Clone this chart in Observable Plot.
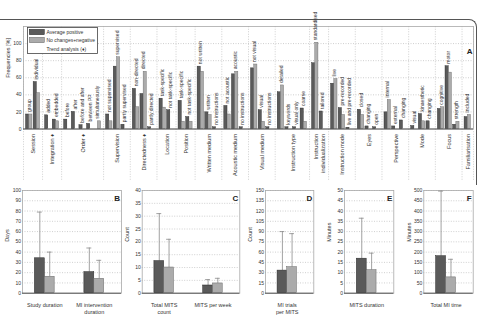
<!DOCTYPE html>
<html><head><meta charset="utf-8">
<script src="https://cdn.jsdelivr.net/npm/d3@7"></script>
<script src="https://cdn.jsdelivr.net/npm/@observablehq/plot@0.6"></script>
<style>
body{margin:0;background:#fff;}
#wrap{position:relative;width:481px;height:315px;overflow:hidden;font-family:"Liberation Sans",Arial,sans-serif;background:#fff;}
#wrap svg{position:absolute;}
.border{position:absolute;left:-2px;top:19px;width:479px;height:166px;border-top:1px solid #555;border-right:1px solid #555;border-top-right-radius:8px;box-sizing:border-box;}
</style></head><body><div id="wrap"><div class="border"></div></div>
<script>
// ---------- Panel A data ----------
const groupNames = ["Session","Integration \u2666","Order \u2666","Supervision","Directedness \u2666","Location","Position",
  "Written medium","Acoustic medium","Visual medium","Instruction type","Instruction\nindividualization",
  "Instruction mode","Eyes","Perspective","Mode","Focus","Familiarisation"];
const groupSizes = [2,2,5,3,3,2,2,3,3,3,4,2,3,3,3,3,3,1];
const itemLabels = [
  "group","individual",
  "added","embedded",
  "before","after","before and after","between PP","simultaneously",
  "not supervised","supervised","partly supervised",
  "non-directed","directed","partly directed",
  "task-specific","not task-specific",
  "task-specific","not task-specific",
  "not written","written","no instructions",
  "not acoustic","acoustic","no instructions",
  "not visual","visual","no instructions",
  "detailed","keywords","visual only","coarse",
  "standardised","tailored",
  "live","pre-recorded","live and pre-recorded",
  "closed","changing","open",
  "internal","external","changing",
  "visual","kinaesthetic","changing",
  "cognitive","motor","strength",
  "included"];
const avgPositive = [
  17,55,
  16,11,
  11,20,4.5,6,0,
  17,73,5,
  47,41,2,
  35.5,22,
  33,14,
  73,19.5,2,
  27,64,2,
  71,22,2,
  43,2,2,24,
  77,20.5,
  53,24.5,1.5,
  22.5,3,2,
  19.5,3,10,
  3.5,17.5,9,
  23.5,73.5,5,
  14];
const noChangeNegative = [
  17,42,
  0,9,
  0,0,0,0,9,
  9,84,0,
  25.5,67,0,
  25,0,
  8.5,8.5,
  67,16.5,0,
  17,67,0,
  75.5,8.5,0,
  51,0,0,8.5,
  101,0,
  58.5,16.5,0,
  16.5,0,0,
  34,0,0,
  0,9,0,
  25.5,66,8.5,
  16.5];
const freqTicks = [0,20,40,60,80,100];

// ---------- Panels B-F data ----------
const studyCats = ["Study duration","MI intervention\nduration"];
const studyAvg = [34, 20.5], studyAvgUpper = [79, 44];
const studyNeg = [16, 14],   studyNegUpper = [40, 32];

const mitsCats = ["Total MITS\ncount","MITS per week"];
const mitsAvg = [12.5, 3],  mitsAvgUpper = [31, 5.3];
const mitsNeg = [10, 3.8],  mitsNegUpper = [21, 5.8];

const trialCats = ["MI trials\nper MITS"];
const trialAvg = [33], trialAvgUpper = [90];
const trialNeg = [38], trialNegUpper = [87];

const durCats = ["MITS duration"];
const durAvg = [16.8], durAvgUpper = [36.5];
const durNeg = [11.2], durNegUpper = [19.5];

const timeCats = ["Total MI time"];
const timeAvg = [180], timeAvgUpper = [497];
const timeNeg = [77],  timeNegUpper = [165];

// ---------- styling ----------
const DARK = "#5a5a5a", DARK_EDGE = "#262626", LIGHT = "#ababab", LIGHT_EDGE = "#666";
const FONT = "'Liberation Sans', Arial, Helvetica, sans-serif";
const TXT = "#333";
const wrap = document.getElementById("wrap");
function place(svg, left, top) { svg.style.left = left + "px"; svg.style.top = top + "px"; wrap.appendChild(svg); }
const baseStyle = {fontSize: "5px", fontFamily: FONT, background: "transparent", color: TXT, overflow: "visible"};

// ---------- Panel A ----------
const items = [], groups = [];
let k = 0, pos = 0;
groupNames.forEach((name, j) => {
  const n = groupSizes[j], start = pos;
  for (let i = 0; i < n; i++, k++)
    items.push({label: itemLabels[k], c: start + 0.75 + i, a: avgPositive[k], b: noChangeNegative[k]});
  groups.push({name, start, center: start + 0.25 + n / 2});
  pos += n + 0.5;
});
const total = pos;
const seps = groups.map(g => g.start).concat([total]);

const plotA = Plot.plot({
  width: 481, height: 186, marginLeft: 23, marginRight: 8, marginTop: 26, marginBottom: 57.5,
  x: {domain: [0, total], axis: null},
  y: {domain: [0, 120], ticks: freqTicks, tickSize: 0, tickPadding: 2, label: null},
  style: baseStyle,
  marks: [
    Plot.ruleY(freqTicks.slice(1), {stroke: "#b0b0b0", strokeDasharray: "1,1.5", strokeWidth: 0.6}),
    Plot.ruleX(seps, {y1: -60, y2: 120, stroke: "#b0b0b0", strokeDasharray: "1,1.5", strokeWidth: 0.6}),
    Plot.frame({stroke: "#a8a8a8", strokeWidth: 0.8}),
    Plot.rect(items.filter(d => d.a > 0), {x1: d => d.c - 0.42, x2: d => d.c, y1: 0, y2: "a", fill: DARK, stroke: DARK_EDGE, strokeWidth: 0.4}),
    Plot.rect(items.filter(d => d.b > 0), {x1: d => d.c, x2: d => d.c + 0.42, y1: 0, y2: "b", fill: LIGHT, stroke: LIGHT_EDGE, strokeWidth: 0.4}),
    Plot.ruleY([0], {stroke: "#3a3a3a", strokeWidth: 0.8}),
    Plot.text(items, {x: "c", y: d => Math.max(d.a, d.b), text: "label", rotate: -90, textAnchor: "start", dy: -2.5, fontSize: 5, fill: TXT}),
    Plot.text(groups, {x: "center", y: 0, text: "name", rotate: -90, textAnchor: "end", dy: 5, fontSize: 5.5, lineHeight: 1.25, fill: TXT}),
    Plot.text(["Frequencies [%]"], {frameAnchor: "left", dx: -15, rotate: -90, fontSize: 5.5, fill: TXT}),
    Plot.text(["A"], {frameAnchor: "top-right", dx: -1, dy: 22, textAnchor: "end", fontWeight: "bold", fontSize: 8, fill: "#222"})
  ]
});
place(plotA, 0, 0);

// legend (inside panel A)
const leg = d3.create("svg").attr("width", 72).attr("height", 28)
  .style("font-family", FONT).style("font-size", "5px");
leg.append("rect").attr("x", 0.5).attr("y", 0.5).attr("width", 70).attr("height", 26).attr("fill", "#fff").attr("stroke", "#444").attr("stroke-width", 0.8);
leg.append("rect").attr("x", 2.3).attr("y", 2.3).attr("width", 15).attr("height", 5.4).attr("fill", DARK).attr("stroke", DARK_EDGE).attr("stroke-width", 0.5);
leg.append("rect").attr("x", 2.3).attr("y", 10.3).attr("width", 15).attr("height", 5.4).attr("fill", LIGHT).attr("stroke", LIGHT_EDGE).attr("stroke-width", 0.5);
[["Average positive", 5], ["No changes+negative", 13], ["Trend analysis (\u2666)", 22]].forEach(([t, y]) =>
  leg.append("text").attr("x", 19.5).attr("y", y).attr("dy", "0.35em").attr("fill", TXT).text(t));
place(leg.node(), 27, 27);

// ---------- Panels B-F ----------
function smallPanel({left, width, mL, mR, letter, yMax, yStep, yLabel, cats, avg, avgUp, neg, negUp}) {
  const d = cats.map((c, i) => ({c, x: i + 0.45, avg: avg[i], avgUp: avgUp[i], neg: neg[i], negUp: negUp[i]}));
  const ticks = d3.range(0, yMax + yStep / 2, yStep);
  const p = Plot.plot({
    width, height: 132, marginLeft: mL, marginRight: mR, marginTop: 7, marginBottom: 22.3,
    x: {domain: [0, cats.length], axis: null},
    y: {domain: [0, yMax], ticks, tickSize: 0, tickPadding: 1.5, label: null},
    style: baseStyle,
    marks: [
      Plot.ruleY(ticks.slice(1), {stroke: "#b0b0b0", strokeDasharray: "1,1.5", strokeWidth: 0.6}),
      Plot.frame({stroke: "#a8a8a8", strokeWidth: 0.8}),
      Plot.ruleX(d, {x: r => r.x - 0.1, y1: "avg", y2: "avgUp", stroke: "#8a8a8a", strokeWidth: 0.8}),
      Plot.ruleY(d, {x1: r => r.x - 0.15, x2: r => r.x - 0.05, y: "avgUp", stroke: "#8a8a8a", strokeWidth: 0.8}),
      Plot.ruleX(d, {x: r => r.x + 0.1, y1: "neg", y2: "negUp", stroke: "#8a8a8a", strokeWidth: 0.8}),
      Plot.ruleY(d, {x1: r => r.x + 0.05, x2: r => r.x + 0.15, y: "negUp", stroke: "#8a8a8a", strokeWidth: 0.8}),
      Plot.rect(d, {x1: r => r.x - 0.2, x2: "x", y1: 0, y2: "avg", fill: DARK, stroke: DARK_EDGE, strokeWidth: 0.5}),
      Plot.rect(d, {x1: "x", x2: r => r.x + 0.2, y1: 0, y2: "neg", fill: LIGHT, stroke: LIGHT_EDGE, strokeWidth: 0.5}),
      Plot.ruleY([0], {stroke: "#3a3a3a", strokeWidth: 0.8}),
      Plot.text(d, {x: "x", frameAnchor: "bottom", text: "c", lineAnchor: "top", dy: 8.5, fontSize: 5.5, lineHeight: 1.35, fill: TXT}),
      Plot.text([yLabel], {frameAnchor: "left", dx: -15, rotate: -90, fontSize: 5.5, fill: TXT}),
      Plot.text([letter], {frameAnchor: "top-right", dx: -1.5, dy: 5, textAnchor: "end", fontWeight: "bold", fontSize: 8, fill: "#222"})
    ]
  });
  place(p, left, 183);
}
smallPanel({left: 0, width: 125, mL: 22, mR: 4, letter: "B", yMax: 100, yStep: 10, yLabel: "Days",
  cats: studyCats, avg: studyAvg, avgUp: studyAvgUpper, neg: studyNeg, negUp: studyNegUpper});
smallPanel({left: 120, width: 124, mL: 21.7, mR: 4.7, letter: "C", yMax: 40, yStep: 5, yLabel: "Count",
  cats: mitsCats, avg: mitsAvg, avgUp: mitsAvgUpper, neg: mitsNeg, negUp: mitsNegUpper});
smallPanel({left: 244, width: 74, mL: 21, mR: 4.7, letter: "D", yMax: 150, yStep: 15, yLabel: "Count",
  cats: trialCats, avg: trialAvg, avgUp: trialAvgUpper, neg: trialNeg, negUp: trialNegUpper});
smallPanel({left: 322, width: 75, mL: 22, mR: 3.7, letter: "E", yMax: 50, yStep: 5, yLabel: "Minutes",
  cats: durCats, avg: durAvg, avgUp: durAvgUpper, neg: durNeg, negUp: durNegUpper});
smallPanel({left: 401, width: 80, mL: 22.3, mR: 8.3, letter: "F", yMax: 500, yStep: 50, yLabel: "Minutes",
  cats: timeCats, avg: timeAvg, avgUp: timeAvgUpper, neg: timeNeg, negUp: timeNegUpper});
</script></body></html>
